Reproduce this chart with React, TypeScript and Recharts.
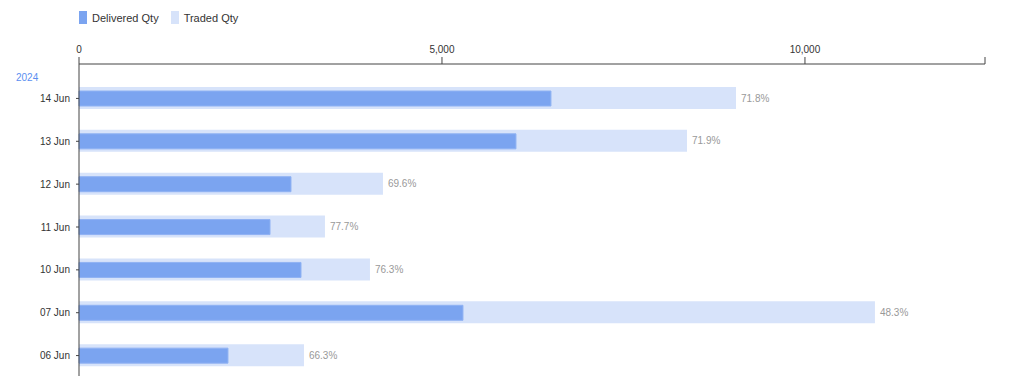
import { BarChart, Bar, XAxis, YAxis, LabelList } from 'recharts'

const days = ['14 Jun', '13 Jun', '12 Jun', '11 Jun', '10 Jun', '07 Jun', '06 Jun']
const deliveredQty = [6501, 6019, 2920, 2631, 3058, 5289, 2052]
const tradedQty = [9050, 8375, 4187, 3388, 4008, 10964, 3099]
const deliveryPct = ['71.8%', '71.9%', '69.6%', '77.7%', '76.3%', '48.3%', '66.3%']
const xTicks = [0, 5000, 10000, 12480]

const data = days.map((day, i) => ({
  day,
  delivered: deliveredQty[i],
  traded: tradedQty[i],
  pct: deliveryPct[i],
}))

const DELIVERED = '#7ba4f0'
const TRADED = '#d7e3fa'
const FONT = 'Liberation Sans, Arial, sans-serif'

function Legend() {
  const items = [
    { name: 'Delivered Qty', color: DELIVERED },
    { name: 'Traded Qty', color: TRADED },
  ]
  return (
    <div style={{ position: 'absolute', left: 79, top: 11, display: 'flex', gap: 12, fontFamily: FONT, fontSize: 11, color: '#333' }}>
      {items.map(it => (
        <span key={it.name} style={{ display: 'flex', alignItems: 'center', gap: 5 }}>
          <span style={{ display: 'inline-block', width: 8, height: 13, background: it.color }} />
          {it.name}
        </span>
      ))}
    </div>
  )
}

export default function App() {
  return (
    <div style={{ position: 'absolute', left: 0, top: 0, width: 1032, height: 376, background: '#fff', overflow: 'hidden' }}>
      <Legend />
      <div style={{ position: 'absolute', left: 16, top: 72, fontFamily: FONT, fontSize: 10, color: '#5b8ff0' }}>2024</div>
      <BarChart
        width={1032}
        height={377}
        data={data}
        layout="vertical"
        margin={{ top: 34, right: 47, left: 0, bottom: 0 }}
        barGap={0}
      >
        <XAxis
          type="number"
          orientation="top"
          domain={[0, 12480]}
          ticks={xTicks}
          interval={0}
          height={30}
          tickSize={7}
          tickMargin={4}
          tickFormatter={(v: number) => (v === 12480 ? '' : v.toLocaleString('en-US'))}
          tick={{ fill: '#333', fontSize: 10, fontFamily: FONT }}
          stroke="#444"
        />
        <YAxis
          yAxisId="traded"
          type="category"
          dataKey="day"
          width={79}
          padding={{ top: 13, bottom: 0 }}
          tickSize={3}
          tickMargin={6}
          tick={{ fill: '#333', fontSize: 10, fontFamily: FONT }}
          stroke="#444"
        />
        <YAxis
          yAxisId="delivered"
          type="category"
          dataKey="day"
          hide
          width={0}
          padding={{ top: 13, bottom: 0 }}
        />
        <Bar yAxisId="traded" dataKey="traded" fill={TRADED} barSize={22} isAnimationActive={false}>
          <LabelList dataKey="pct" position="right" offset={5} fill="#999" fontSize={10} fontFamily={FONT} />
        </Bar>
        <Bar yAxisId="delivered" dataKey="delivered" fill={DELIVERED} stroke="#8fb2f3" strokeWidth={1} barSize={15} isAnimationActive={false} />
      </BarChart>
    </div>
  )
}
